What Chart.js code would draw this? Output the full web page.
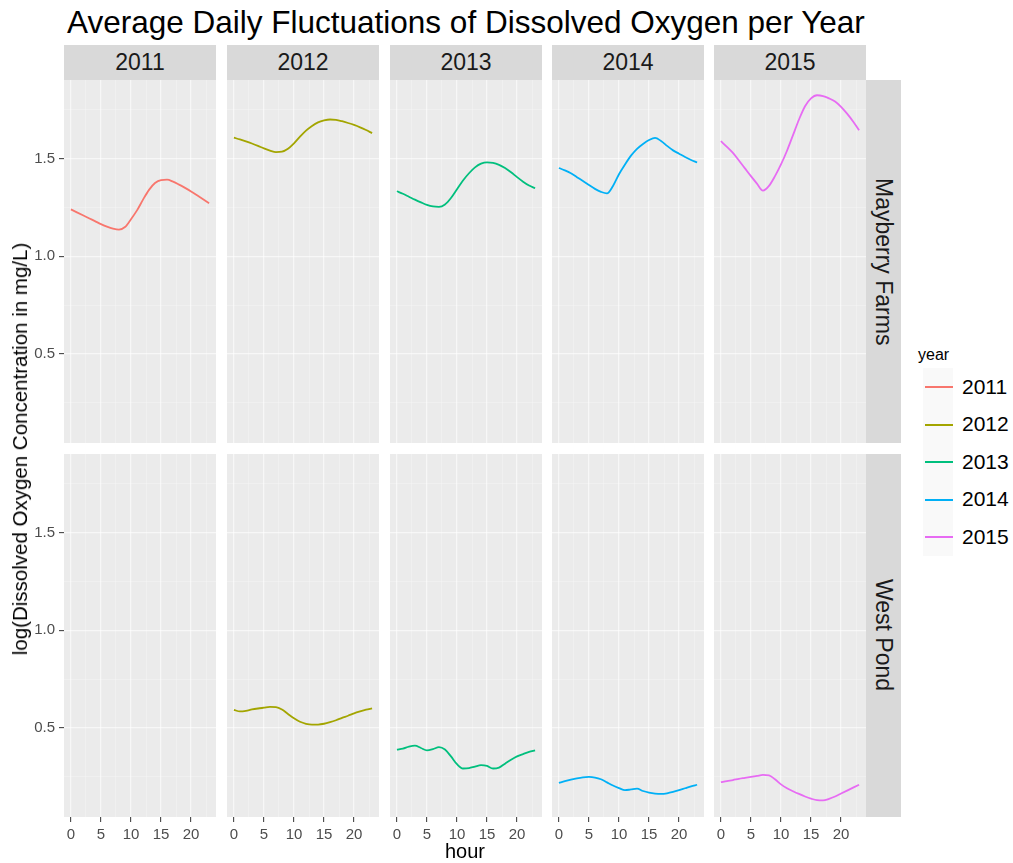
<!DOCTYPE html>
<html>
<head>
<meta charset="utf-8">
<title>Average Daily Fluctuations of Dissolved Oxygen per Year</title>
<script src="https://cdn.jsdelivr.net/npm/chart.js@4.4.1/dist/chart.umd.min.js"></script>
<style>
  body { margin: 0; background: #fff; font-family: 'Liberation Sans', Arial, Helvetica, sans-serif; }
  #page { position: relative; width: 1013px; height: 863px; overflow: hidden; }
  #page canvas { position: absolute; }
  .title { position: absolute; left: 67px; top: 7px; font-size: 31.5px; line-height: 31px; color: #000; white-space: nowrap; }
  .strip-top { position: absolute; top: 45px; height: 35px; line-height: 35px; background: #D9D9D9; color: #1A1A1A; font-size: 23px; text-align: center; }
  .strip-right { position: absolute; width: 35px; background: #D9D9D9; color: #1A1A1A; font-size: 23px; display: flex; align-items: center; justify-content: center; }
  .strip-right span { writing-mode: vertical-rl; white-space: nowrap; }
  .ytitle { position: absolute; left: 20px; top: 449px; font-size: 20.5px; color: #000; white-space: nowrap; transform: translate(-50%, -50%) rotate(-90deg); }
  .xtitle { position: absolute; left: 465px; top: 851px; font-size: 20px; color: #000; transform: translate(-50%, -50%); }
  .legend { position: absolute; left: 918px; top: 342px; }
  .legend .ltitle { font-size: 16px; color: #000; height: 26px; line-height: 26px; }
  .legend .item { display: flex; align-items: center; height: 37.5px; }
  .legend .key { width: 30px; height: 37.5px; margin-left: 5px; background: #F9F9F9; position: relative; }
  .legend .key i { position: absolute; left: 2px; right: 0; top: 18px; height: 2px; }
  .legend .lab { font-size: 21px; color: #000; margin-left: 9px; }
</style>
</head>
<body>
<div id="page"></div>
<script>
// facets: one column per year, one row per site
const years = ['2011', '2012', '2013', '2014', '2015'];
const sites = ['Mayberry Farms', 'West Pond'];
const yearColors = ['#F8766D', '#A3A500', '#00BF7D', '#00B0F6', '#E76BF3'];

const hours = [0, 1, 2, 3, 4, 5, 6, 7, 8, 9, 10, 11, 12, 13, 14, 15, 16, 17, 18, 19, 20, 21, 22, 23];
const hourTicks = [0, 5, 10, 15, 20];
const hourGrid = [0, 2.5, 5, 7.5, 10, 12.5, 15, 17.5, 20, 22.5];
const doTicks = [0.5, 1.0, 1.5];
const doGrid = [0.25, 0.5, 0.75, 1.0, 1.25, 1.5, 1.75];

// log(DO) hourly averages, Mayberry Farms
const mf2011 = [1.240, 1.225, 1.210, 1.195, 1.180, 1.165, 1.152, 1.142, 1.137, 1.150, 1.190, 1.235, 1.290, 1.340, 1.375, 1.390, 1.392, 1.382, 1.367, 1.350, 1.332, 1.312, 1.292, 1.272];
const mf2012 = [1.607, 1.598, 1.588, 1.577, 1.565, 1.552, 1.541, 1.533, 1.535, 1.550, 1.578, 1.612, 1.643, 1.667, 1.685, 1.695, 1.700, 1.698, 1.691, 1.682, 1.672, 1.660, 1.646, 1.630];
const mf2013 = [1.333, 1.320, 1.305, 1.290, 1.276, 1.263, 1.255, 1.253, 1.265, 1.298, 1.343, 1.388, 1.425, 1.455, 1.474, 1.481, 1.478, 1.468, 1.452, 1.430, 1.405, 1.382, 1.362, 1.348];
const mf2014 = [1.452, 1.440, 1.425, 1.405, 1.385, 1.365, 1.345, 1.330, 1.322, 1.360, 1.420, 1.470, 1.515, 1.550, 1.575, 1.595, 1.606, 1.590, 1.565, 1.542, 1.525, 1.508, 1.493, 1.480];
const mf2015 = [1.589, 1.560, 1.529, 1.490, 1.450, 1.410, 1.372, 1.336, 1.360, 1.410, 1.470, 1.540, 1.620, 1.700, 1.768, 1.808, 1.824, 1.820, 1.808, 1.792, 1.765, 1.730, 1.690, 1.645];

// West Pond (no 2011 readings)
const wp2011 = [];
const wp2012 = [0.593, 0.585, 0.588, 0.595, 0.600, 0.604, 0.608, 0.607, 0.595, 0.572, 0.550, 0.532, 0.522, 0.518, 0.518, 0.522, 0.530, 0.540, 0.552, 0.563, 0.575, 0.585, 0.594, 0.601];
const wp2013 = [0.390, 0.395, 0.405, 0.410, 0.398, 0.386, 0.392, 0.402, 0.390, 0.355, 0.315, 0.293, 0.295, 0.303, 0.310, 0.306, 0.293, 0.298, 0.318, 0.338, 0.355, 0.367, 0.378, 0.386];
const wp2014 = [0.219, 0.228, 0.236, 0.243, 0.248, 0.250, 0.247, 0.238, 0.222, 0.206, 0.193, 0.182, 0.186, 0.190, 0.178, 0.170, 0.165, 0.163, 0.166, 0.173, 0.182, 0.192, 0.202, 0.210];
const wp2015 = [0.223, 0.229, 0.234, 0.240, 0.245, 0.250, 0.255, 0.260, 0.258, 0.238, 0.212, 0.192, 0.177, 0.163, 0.150, 0.139, 0.131, 0.130, 0.138, 0.150, 0.165, 0.180, 0.195, 0.210];

const siteSeries = [
  [mf2011, mf2012, mf2013, mf2014, mf2015],
  [wp2011, wp2012, wp2013, wp2014, wp2015]
];

// panel grid geometry
const colLeft = [64, 227, 390, 552, 714];
const panelW = 152;
const rowTop = [80, 454];
const panelH = 363;
const yAxisW = 64;
const xAxisH = 30;

const page = document.getElementById('page');

function addDiv(cls, html, style) {
  const d = document.createElement('div');
  d.className = cls;
  d.innerHTML = html;
  Object.assign(d.style, style || {});
  page.appendChild(d);
  return d;
}

// grey panel background, like theme_gray
const panelBg = {
  id: 'panelBg',
  beforeDraw(chart) {
    const { ctx, chartArea } = chart;
    ctx.save();
    ctx.fillStyle = '#EBEBEB';
    ctx.fillRect(chartArea.left, chartArea.top, chartArea.width, chartArea.height);
    ctx.restore();
  }
};

const tickFont = { family: "'Liberation Sans', Arial, sans-serif", size: 15 };
const majorLine = 'rgba(255,255,255,0.6)';
const minorLine = 'rgba(255,255,255,0.35)';

function makePanel(r, c) {
  const isLeft = c === 0;
  const isBottom = r === 1;
  const canvas = document.createElement('canvas');
  const left = isLeft ? colLeft[c] - yAxisW : colLeft[c];
  const width = isLeft ? panelW + yAxisW : panelW;
  const height = isBottom ? panelH + xAxisH : panelH;
  canvas.width = width;
  canvas.height = height;
  canvas.style.left = left + 'px';
  canvas.style.top = rowTop[r] + 'px';
  canvas.style.width = width + 'px';
  canvas.style.height = height + 'px';
  page.appendChild(canvas);

  const values = siteSeries[r][c];
  const datasets = values.length ? [{
    label: years[c],
    data: hours.map((h, i) => ({ x: h, y: values[i] })),
    borderColor: yearColors[c],
    borderWidth: 1.8,
    pointRadius: 0,
    cubicInterpolationMode: 'monotone',
    fill: false
  }] : [];

  new Chart(canvas, {
    type: 'line',
    data: { datasets },
    plugins: [panelBg],
    options: {
      responsive: false,
      animation: false,
      events: [],
      layout: { padding: 0 },
      plugins: { legend: { display: false }, tooltip: { enabled: false } },
      scales: {
        x: {
          type: 'linear',
          min: -1.15,
          max: 24.15,
          afterBuildTicks: s => { s.ticks = hourGrid.map(v => ({ value: v })); },
          afterFit: s => {
            s.height = isBottom ? xAxisH : 0;
            s.paddingLeft = s.paddingRight = s.paddingTop = s.paddingBottom = 0;
          },
          border: { display: false },
          grid: {
            color: ctx => hourTicks.includes(ctx.tick.value) ? majorLine : minorLine,
            lineWidth: ctx => hourTicks.includes(ctx.tick.value) ? 1.3 : 0.7,
            drawTicks: isBottom,
            tickLength: 5,
            tickWidth: 1,
            tickColor: ctx => hourTicks.includes(ctx.tick.value) ? '#333333' : 'rgba(0,0,0,0)'
          },
          ticks: {
            display: isBottom,
            autoSkip: false,
            maxRotation: 0,
            padding: 4,
            color: '#4D4D4D',
            font: tickFont,
            callback: v => hourTicks.includes(v) ? String(v) : ''
          }
        },
        y: {
          min: 0.045,
          max: 1.902,
          afterBuildTicks: s => { s.ticks = doGrid.map(v => ({ value: v })); },
          afterFit: s => {
            s.width = isLeft ? yAxisW : 0;
            s.paddingLeft = s.paddingRight = s.paddingTop = s.paddingBottom = 0;
          },
          border: { display: false },
          grid: {
            color: ctx => doTicks.includes(ctx.tick.value) ? majorLine : minorLine,
            lineWidth: ctx => doTicks.includes(ctx.tick.value) ? 1.3 : 0.7,
            drawTicks: isLeft,
            tickLength: 5,
            tickWidth: 1,
            tickColor: ctx => doTicks.includes(ctx.tick.value) ? '#333333' : 'rgba(0,0,0,0)'
          },
          ticks: {
            display: isLeft,
            autoSkip: false,
            padding: 4,
            color: '#4D4D4D',
            font: tickFont,
            callback: v => doTicks.includes(v) ? v.toFixed(1) : ''
          }
        }
      }
    }
  });
}

for (let r = 0; r < sites.length; r++) {
  for (let c = 0; c < years.length; c++) makePanel(r, c);
}

// text around the panels
addDiv('title', 'Average Daily Fluctuations of Dissolved Oxygen per Year');
years.forEach((y, c) => addDiv('strip-top', y, { left: colLeft[c] + 'px', width: panelW + 'px' }));
sites.forEach((s, r) => addDiv('strip-right', '<span>' + s + '</span>', {
  left: (colLeft[4] + panelW) + 'px', top: rowTop[r] + 'px', height: panelH + 'px'
}));
addDiv('ytitle', 'log(Dissolved Oxygen Concentration in mg/L)');
addDiv('xtitle', 'hour');

// colour legend for the year series
const legend = addDiv('legend', '<div class="ltitle">year</div>');
years.forEach((y, i) => {
  const item = document.createElement('div');
  item.className = 'item';
  item.innerHTML = '<div class="key"><i style="background:' + yearColors[i] + '"></i></div><div class="lab">' + y + '</div>';
  legend.appendChild(item);
});
</script>
</body>
</html>
